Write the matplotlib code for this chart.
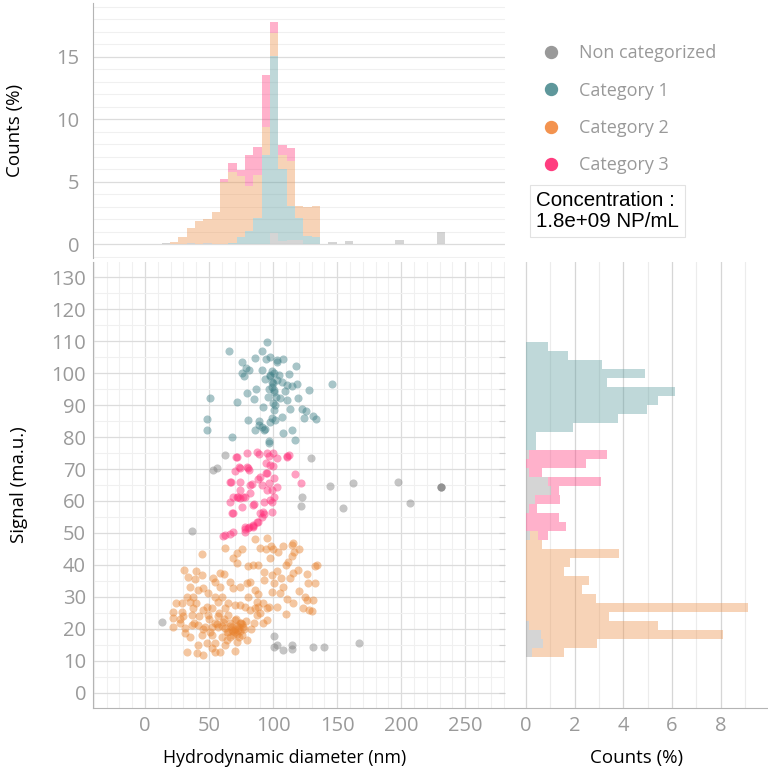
import matplotlib
matplotlib.use('Agg')
import matplotlib.pyplot as plt
import numpy as np
from matplotlib.lines import Line2D
from matplotlib.ticker import MultipleLocator

plt.rcParams['font.family'] = ['Open Sans', 'DejaVu Sans']

# ---------------- data ----------------
categories = ['Non categorized', 'Category 1', 'Category 2', 'Category 3']
colors = ['#969696', '#5f9ea0', '#ed934d', '#ff3d7f']
marker_colors = ['#7f7f7f', '#3f7f86', '#e8822e', '#ff2d78']
legend_colors = ['#999999', '#5e979b', '#f3934f', '#ff3d7f']
concentration_text = 'Concentration :\n1.8e+09 NP/mL'

gray_x = [13.0, 36.5, 53.4, 56.0, 62.5, 100.3, 100.3, 102.9, 107.6, 114.6, 115.1, 131.5, 140.1,
          166.7, 122.9, 121.9, 129.7, 144.5, 162.2, 154.2, 197.7, 207.0, 231.3, 231.3, 231.3]
gray_y = [22.3, 50.6, 69.7, 70.4, 74.4, 17.8, 14.5, 15.0, 13.4, 15.0, 13.7, 14.5, 14.5,
          15.7, 61.4, 58.5, 73.5, 64.8, 65.5, 57.7, 65.9, 59.4, 64.4, 64.4, 64.4]

cat1_x = [95.1, 65.9, 91.7, 86.2, 94.5, 97.9, 102.9, 108.1, 118.0, 75.5, 78.9, 81.0, 75.8, 77.6,
          91.2, 99.0, 97.7, 100.8, 104.4, 112.2, 93.5, 99.0, 102.9, 106.8, 110.7, 118.5, 145.8,
          96.4, 86.5, 79.4, 100.3, 109.1, 114.6, 102.4, 105.0, 110.7, 119.8, 128.1, 72.1, 85.2,
          96.1, 99.7, 92.2, 113.5, 122.9, 126.0, 131.5, 133.6, 100.8, 50.5, 48.2, 48.2, 80.2,
          88.8, 89.3, 91.4, 94.0, 99.5, 101.3, 106.8, 97.7, 85.9, 92.7, 114.6, 108.1, 117.2,
          96.4, 68.2, 124.0, 97.1, 100.5, 99.0, 101.5, 97.5, 103.0, 100.0]
cat1_y = [109.6, 107.0, 106.9, 104.8, 104.3, 105.1, 103.3, 104.3, 102.3, 103.3, 101.7, 100.9, 99.9,
          99.2, 100.9, 100.7, 99.2, 100.1, 99.4, 99.6, 98.0, 97.3, 97.8, 97.3, 96.3, 96.6, 96.6,
          94.9, 94.9, 93.6, 94.7, 94.5, 95.9, 92.6, 92.3, 91.6, 92.3, 94.7, 90.8, 91.8, 92.6,
          90.5, 89.5, 88.8, 88.8, 88.1, 86.7, 85.5, 88.4, 92.2, 85.5, 82.2, 85.3, 85.1, 83.8,
          83.2, 82.4, 85.8, 85.3, 86.4, 84.8, 82.2, 82.2, 82.2, 81.2, 79.1, 78.9, 79.9, 85.8,
          78.2, 94.0, 95.5, 90.0, 99.5, 104.0, 97.0]

cat2_x = [85.9, 95.1, 89.8, 94.5, 98.2, 114.6, 115.9, 44.3, 62.5, 71.6, 75.5, 69.0, 71.6, 114.6,
          97.7, 80.7, 84.6, 88.5, 92.5, 99.0, 30.7, 33.9, 39.1, 44.3, 58.6, 61.7, 54.7, 58.6,
          66.4, 69.0, 74.2, 79.4, 82.0, 85.9, 92.5, 100.3, 108.1, 115.9, 119.8, 126.3, 113.3,
          132.8, 127.6, 132.8, 99.0, 105.5, 110.7, 115.9, 125.0, 126.3, 131.5, 123.7, 130.2,
          109.9, 102.9, 95.1, 85.9, 88.5, 87.2, 82.0, 74.2, 70.3, 65.1, 62.5, 57.3, 54.7, 49.5,
          45.6, 41.7, 37.8, 35.2, 28.7, 24.2, 22.1, 28.7, 37.8, 36.5, 45.6, 52.1, 49.5, 57.3,
          65.1, 61.2, 70.3, 74.2, 76.8, 72.9, 67.7, 62.5, 57.3, 52.1, 46.9, 41.7, 36.5, 31.3,
          27.4, 22.1, 22.1, 31.3, 35.2, 44.3, 52.1, 59.9, 66.4, 75.5, 79.4, 71.6, 62.5, 54.7,
          48.2, 41.7, 32.6, 40.4, 45.6, 52.1, 54.7, 58.6, 70.3, 63.8, 87.2, 95.1,
          68.0, 70.0, 72.0, 74.0, 66.0, 71.0, 75.0, 69.0, 73.0, 77.0, 65.0, 60.0, 62.0, 58.0,
          55.0, 50.0, 48.0, 42.0, 40.0, 38.0, 45.0, 30.0, 27.0, 33.0, 35.0, 40.0, 53.0, 60.0,
          80.0, 78.0, 88.0, 90.0, 92.0, 85.0, 83.0, 92.0, 97.0, 103.0, 106.0, 110.0, 120.0,
          128.0, 134.0, 100.0, 104.0, 108.0, 112.0, 116.0, 120.0, 70.5, 73.5, 68.5, 76.0,
          71.5, 66.5, 79.0, 64.0, 56.5, 51.0]
cat2_y = [48.0, 48.3, 45.2, 44.9, 45.9, 46.2, 46.8, 43.4, 45.4, 43.6, 44.9, 42.1, 40.7, 42.8,
          42.3, 39.7, 40.0, 40.0, 37.9, 36.9, 38.4, 36.1, 35.5, 36.9, 37.6, 37.1, 34.8, 33.2,
          34.8, 32.7, 33.2, 34.3, 34.8, 32.2, 35.3, 34.3, 33.2, 37.4, 38.4, 37.2, 35.8,
          39.8, 34.5, 34.3, 31.7, 31.1, 29.3, 28.0, 29.9, 29.1, 28.9, 26.5, 25.7,
          24.6, 26.8, 26.5, 26.5, 26.8, 24.4, 25.9, 27.5, 27.5, 28.0, 26.5, 28.5, 30.1, 31.1,
          32.7, 32.2, 30.1, 28.5, 28.0, 28.0, 25.4, 25.4, 26.5, 24.4, 25.9, 26.5, 24.4, 23.9,
          24.4, 22.3, 22.8, 21.8, 20.7, 19.7, 19.7, 20.2, 20.7, 20.7, 20.7, 21.2, 21.2, 20.2,
          21.8, 23.3, 20.7, 18.6, 17.6, 18.1, 18.1, 17.6, 17.6, 18.1, 16.6, 16.0, 15.0, 15.5,
          15.5, 15.0, 12.9, 12.4, 11.9, 14.0, 12.9, 12.7, 13.1, 16.6, 28.5, 22.8,
          20.5, 19.0, 21.0, 19.5, 22.0, 23.0, 22.0, 18.0, 17.5, 20.0, 19.0, 21.0, 23.0, 25.0,
          22.0, 23.0, 27.0, 24.0, 28.0, 22.0, 20.0, 24.0, 23.0, 30.0, 33.0, 38.0, 36.0, 30.0,
          30.0, 27.0, 31.0, 25.0, 28.0, 22.0, 20.0, 22.0, 27.0, 38.0, 36.0, 40.0, 32.0,
          26.0, 40.0, 45.0, 44.0, 46.0, 41.0, 44.0, 45.0, 20.0, 20.5, 19.5, 21.5,
          18.5, 21.0, 22.5, 19.0, 21.5, 19.0]

cat3_x = [87.2, 89.3, 95.1, 96.4, 110.7, 112.2, 102.9, 71.4, 94.5, 97.7, 99.7, 73.7, 79.4, 81.5,
          70.3, 89.8, 94.5, 88.5, 100.3, 116.7, 67.2, 74.2, 83.3, 91.2, 96.6, 102.9, 122.1,
          82.0, 95.1, 71.6, 74.2, 76.8, 100.3, 66.4, 85.2, 93.0, 99.0, 69.0, 75.5, 89.8, 92.5,
          99.0, 88.5, 81.3, 84.6, 78.1, 62.5, 68.5, 78.1, 84.6, 87.2, 80.7, 72.1, 79.4, 74.2,
          80.7, 66.4, 82.0, 74.2, 69.0, 72.9, 78.1, 84.6, 67.7, 61.2, 66.4, 78.1, 84.6, 91.1,
          92.4, 97.6, 98.9, 95.0, 100.2, 110.7]
cat3_y = [75.4, 74.7, 75.1, 74.1, 74.1, 74.4, 73.5, 73.9, 71.8, 71.3, 71.0, 70.7, 70.7, 69.7,
          69.4, 67.6, 68.6, 66.9, 67.1, 68.4, 66.0, 66.0, 65.2, 65.0, 65.7, 64.5, 65.7,
          62.6, 63.4, 61.4, 61.0, 61.4, 61.4, 59.8, 59.0, 59.8, 59.6, 56.4, 58.2, 56.4, 55.8,
          56.7, 53.5, 52.0, 52.2, 51.8, 49.4, 50.4, 50.4, 52.0, 53.5, 51.5, 73.8, 74.9, 70.2,
          70.2, 66.0, 65.0, 63.4, 61.1, 61.1, 61.1, 58.7, 56.1, 49.0, 49.7, 51.4, 52.5, 55.1,
          56.7, 60.3, 63.4, 68.6, 74.9, 73.8]

# top histogram (hydrodynamic diameter), counts (%) per bin, stacked
diam_bin_start = 13.0
diam_bin_width = 6.51
diam_gray = [0.08, 0, 0, 0.13, 0, 0.13, 0.05, 0, 0, 0, 0, 0, 0, 0.88, 0.27, 0.30, 0.30, 0, 0,
             0.05, 0.16, 0, 0.27, 0.05, 0, 0, 0, 0, 0.37, 0.05, 0, 0, 0, 1.00]
diam_cat1 = [0, 0, 0, 0, 0, 0, 0, 0, 0.10, 0.59, 1.07, 2.06, 7.11, 14.17, 5.75, 2.72, 1.79, 0.67,
             0.56, 0, 0, 0, 0, 0, 0, 0, 0, 0, 0, 0, 0, 0, 0, 0]
diam_cat2 = [0, 0.16, 0.61, 1.13, 1.84, 1.90, 2.52, 5.00, 5.70, 4.86, 3.61, 3.47, 2.25, 1.82,
             1.12, 3.66, 0.93, 2.30, 2.51, 0, 0, 0, 0, 0, 0, 0, 0, 0, 0, 0, 0, 0, 0, 0]
diam_cat3 = [0, 0, 0, 0, 0, 0, 0, 0.19, 0.67, 0.48, 2.46, 2.27, 4.22, 0.91, 0.80, 0.99, 0, 0,
             0, 0, 0, 0, 0, 0, 0, 0, 0, 0, 0, 0, 0, 0, 0, 0]

# right histogram (signal), counts (%) per bin, stacked
sig_bin_start = 11.25
sig_bin_width = 2.816
sig_gray = [0.26, 0.71, 0.60, 0.12, 0, 0, 0, 0, 0, 0, 0, 0, 0, 0.16, 0, 0, 0.14, 0.37, 1.01, 0.92,
            0.14, 0, 0.12, 0, 0, 0, 0, 0, 0, 0, 0, 0, 0, 0, 0]
sig_cat1 = [0, 0, 0, 0, 0, 0, 0, 0, 0, 0, 0, 0, 0, 0, 0, 0, 0, 0, 0, 0, 0, 0, 0,
            0.41, 0.41, 1.93, 3.78, 4.96, 5.41, 6.12, 3.34, 4.89, 3.13, 1.71, 0.92]
sig_cat2 = [1.30, 2.19, 7.49, 5.30, 3.41, 9.13, 2.87, 2.29, 2.60, 1.56, 1.79, 3.82, 0.64, 0.34,
            0, 0, 0, 0, 0, 0, 0, 0, 0, 0, 0, 0, 0, 0, 0, 0, 0, 0, 0, 0, 0]
sig_cat3 = [0, 0, 0, 0, 0, 0, 0, 0, 0, 0, 0, 0, 0, 0.42, 1.64, 1.34, 0.30, 1.03, 0.33, 2.17, 0.53,
            2.46, 3.22, 0, 0, 0, 0, 0, 0, 0, 0, 0, 0, 0, 0]

# ---------------- figure ----------------
W, H = 768, 774
fig = plt.figure(figsize=(W / 100, H / 100), dpi=100)

def fx(px):
    return px / W

def fy(py):
    return 1 - py / H

L, R_main, R_all = 93, 505, 768
T_top, B_top, T_main, B_main = 3, 258, 262, 708

ax = fig.add_axes([fx(L), fy(B_main), fx(R_main - L), fy(T_main) - fy(B_main)])
axt = fig.add_axes([fx(L), fy(B_top), fx(R_main - L), fy(T_top) - fy(B_top)])
axr = fig.add_axes([fx(R_main), fy(B_main), fx(R_all - R_main), fy(T_main) - fy(B_main)])

tick_col = '#9a9a9a'
spine_col = '#b4b4b4'
major_grid = '#dcdcdc'
minor_grid = '#f0f0f0'
TFS = 14.5   # tick labels
LFS = 13.5   # axis labels
GFS = 13     # legend

XLIM = (-40.6, 281)
YLIM = (-4.7, 134.7)

# main scatter
ax.set_xlim(*XLIM)
ax.set_ylim(*YLIM)
ax.xaxis.set_minor_locator(MultipleLocator(10))
ax.yaxis.set_minor_locator(MultipleLocator(5))
ax.set_xticks(np.arange(0, 251, 50))
ax.set_yticks(np.arange(0, 131, 10))
ax.grid(which='major', color=major_grid, lw=0.9)
ax.grid(which='minor', color=minor_grid, lw=0.8)
ax.set_axisbelow(True)
for s in ['top', 'right']:
    ax.spines[s].set_visible(False)
for s in ['left', 'bottom']:
    ax.spines[s].set_color(spine_col)
ax.tick_params(which='both', length=0, labelsize=TFS, labelcolor=tick_col)
ax.tick_params(axis='y', pad=5)
ax.tick_params(axis='x', pad=6)

for xs, ys, c in [(gray_x, gray_y, marker_colors[0]), (cat1_x, cat1_y, marker_colors[1]),
                  (cat2_x, cat2_y, marker_colors[2]), (cat3_x, cat3_y, marker_colors[3])]:
    ax.scatter(xs, ys, s=34, color=c, alpha=0.45, linewidths=0, zorder=3)

ax.set_xlabel('Hydrodynamic diameter (nm)', fontsize=12.8, color='black', va='center')
ax.xaxis.set_label_coords((285 - L) / (R_main - L), (B_main - 758) / (B_main - T_main))
ax.set_ylabel('Signal (ma.u.)', fontsize=LFS, color='black', va='center')
ax.yaxis.set_label_coords((19 - L) / (R_main - L), 0.5)

# top histogram
axt.set_xlim(*XLIM)
axt.set_ylim(-1.1, 19.3)
axt.yaxis.set_minor_locator(MultipleLocator(1))
axt.set_yticks([0, 5, 10, 15])
axt.set_xticks([])
axt.grid(axis='y', which='major', color=major_grid, lw=0.9)
axt.grid(axis='y', which='minor', color=minor_grid, lw=0.8)
axt.set_axisbelow(True)
for s in ['top', 'right', 'bottom']:
    axt.spines[s].set_visible(False)
axt.spines['left'].set_color(spine_col)
axt.tick_params(which='both', length=0, labelsize=TFS, labelcolor=tick_col, pad=10)
axt.set_ylabel('Counts (%)', fontsize=LFS, color='black', va='center')
axt.yaxis.set_label_coords((15 - L) / (R_main - L), 0.5)

nb = len(diam_gray)
lefts = diam_bin_start + diam_bin_width * np.arange(nb)
bottom = np.zeros(nb)
for h, c in [(diam_gray, colors[0]), (diam_cat1, colors[1]), (diam_cat2, colors[2]), (diam_cat3, colors[3])]:
    h = np.array(h)
    axt.bar(lefts, h, width=diam_bin_width, bottom=bottom, align='edge', color=c, alpha=0.4,
            linewidth=0, antialiased=False, zorder=2)
    bottom = bottom + h

# right histogram
axr.set_ylim(*YLIM)
axr.set_xlim(-0.86, 9.94)
axr.set_xticks([0, 2, 4, 6, 8])
axr.xaxis.set_minor_locator(MultipleLocator(1))
axr.grid(axis='x', which='major', color='#d6d6d6', lw=0.9)
axr.grid(axis='x', which='minor', color='#ececec', lw=0.8)
axr.set_axisbelow(True)
axr.set_yticks([0] + list(np.arange(10, 111, 5)))
axr.set_yticklabels([])
for s in ['top', 'right', 'left']:
    axr.spines[s].set_visible(False)
axr.spines['bottom'].set_color(spine_col)
axr.tick_params(axis='y', length=4, color='#cfcfcf')
axr.tick_params(axis='x', which='both', length=0, labelsize=TFS, labelcolor=tick_col, pad=6)
axr.set_xlabel('Counts (%)', fontsize=LFS, color='black', va='center')
axr.xaxis.set_label_coords(0.5, (B_main - 758) / (B_main - T_main))

nb = len(sig_gray)
lows = sig_bin_start + sig_bin_width * np.arange(nb)
left = np.zeros(nb)
for h, c in [(sig_gray, colors[0]), (sig_cat1, colors[1]), (sig_cat2, colors[2]), (sig_cat3, colors[3])]:
    h = np.array(h)
    axr.barh(lows, h, height=sig_bin_width, left=left, align='edge', color=c, alpha=0.4,
             linewidth=0, antialiased=False, zorder=2)
    left = left + h

# legend
handles = [Line2D([], [], marker='o', ls='', color=c, markersize=8.6) for c in legend_colors]
fig.legend(handles, categories, loc='upper left', bbox_to_anchor=(fx(533), fy(44)),
           frameon=False, fontsize=GFS, labelcolor='#999999', handletextpad=0.55,
           labelspacing=1.08, borderaxespad=0, borderpad=0)

fig.text(fx(536), fy(211), concentration_text, fontsize=14.8,
         family=['Liberation Sans', 'DejaVu Sans'],
         color='black', va='center', ha='left', linespacing=1.1,
         bbox=dict(boxstyle='square,pad=0.3', fc='white', ec='#e2e2e2', lw=0.8))

fig.savefig('out.png', dpi=100)
